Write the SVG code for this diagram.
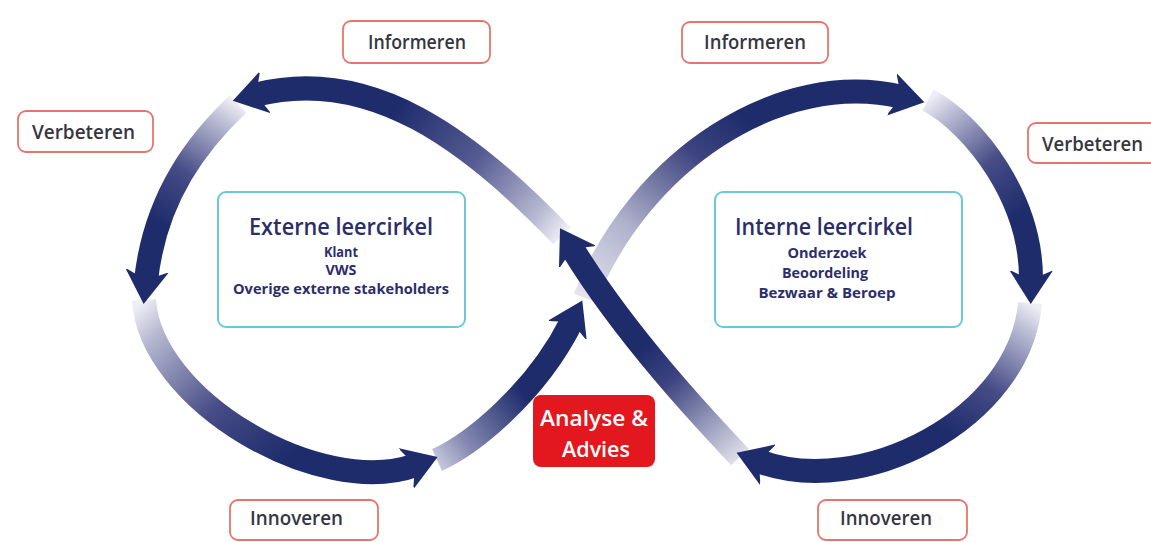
<svg xmlns="http://www.w3.org/2000/svg" xmlns:xlink="http://www.w3.org/1999/xlink" width="1151" height="542" viewBox="0 0 1151 542">
<style>
.lbl rect{fill:#ffffff;stroke:#e4766c;stroke-width:1.8}
.lbl text{font-family:"Open Sans","DejaVu Sans Condensed","Liberation Sans",sans-serif;font-weight:600;font-size:19px;fill:#36363f}
.circ rect{fill:#ffffff;stroke:#6cc7dc;stroke-width:2}
.circ text{font-family:"Open Sans","DejaVu Sans Condensed","Liberation Sans",sans-serif;fill:#2c2e6a;text-anchor:middle}
.circ .t{font-size:24px;font-weight:600}
.circ .s{font-size:14px;font-weight:bold}
.shaft{fill:none;stroke-width:24;stroke-linecap:butt}
.head{fill:none;stroke:none;marker-end:url(#ah)}
.red rect{fill:#e3171e}
.red text{font-family:"Open Sans","DejaVu Sans Condensed","Liberation Sans",sans-serif;font-weight:600;font-size:22px;fill:#ffffff;text-anchor:middle}
</style>
<defs>
<marker id="ah" viewBox="0 -23 35 46" refX="10" refY="0" markerWidth="35" markerHeight="46" markerUnits="userSpaceOnUse" orient="auto">
<path d="M33,0 L-1,-22 L9,0 L-1,22 Z" fill="#1e2c6c"/>
</marker>
<linearGradient id="g1" gradientUnits="userSpaceOnUse" x1="562" y1="236" x2="395" y2="110"><stop offset="0" stop-color="#eeeef5"/><stop offset="0.15" stop-color="#b8bad2"/><stop offset="0.55" stop-color="#555b92"/><stop offset="1" stop-color="#1e2c6c"/></linearGradient>
<linearGradient id="g2" gradientUnits="userSpaceOnUse" x1="238" y1="104" x2="162" y2="225"><stop offset="0" stop-color="#eeeef5"/><stop offset="0.15" stop-color="#c0c2d8"/><stop offset="0.6" stop-color="#464c86"/><stop offset="1" stop-color="#1e2c6c"/></linearGradient>
<linearGradient id="g3" gradientUnits="userSpaceOnUse" x1="144" y1="300" x2="290" y2="455"><stop offset="0" stop-color="#eeeef5"/><stop offset="0.15" stop-color="#b8bad2"/><stop offset="0.6" stop-color="#464c86"/><stop offset="1" stop-color="#1e2c6c"/></linearGradient>
<linearGradient id="g4" gradientUnits="userSpaceOnUse" x1="437" y1="460" x2="525" y2="395"><stop offset="0" stop-color="#c4c6da"/><stop offset="0.3" stop-color="#868ab2"/><stop offset="1" stop-color="#1e2c6c"/></linearGradient>
<linearGradient id="g5" gradientUnits="userSpaceOnUse" x1="585" y1="298" x2="735" y2="110"><stop offset="0" stop-color="#e4e4ee"/><stop offset="0.35" stop-color="#aeb1cb"/><stop offset="0.75" stop-color="#3e4481"/><stop offset="1" stop-color="#1e2c6c"/></linearGradient>
<linearGradient id="g6" gradientUnits="userSpaceOnUse" x1="928" y1="100" x2="1018" y2="215"><stop offset="0" stop-color="#eeeef5"/><stop offset="0.15" stop-color="#c0c2d8"/><stop offset="0.6" stop-color="#464c86"/><stop offset="1" stop-color="#1e2c6c"/></linearGradient>
<linearGradient id="g7" gradientUnits="userSpaceOnUse" x1="1030" y1="303" x2="945" y2="432"><stop offset="0" stop-color="#eeeef5"/><stop offset="0.15" stop-color="#c0c2d8"/><stop offset="0.6" stop-color="#464c86"/><stop offset="1" stop-color="#1e2c6c"/></linearGradient>
<linearGradient id="g8" gradientUnits="userSpaceOnUse" x1="740" y1="457" x2="645" y2="345"><stop offset="0" stop-color="#dedeea"/><stop offset="0.25" stop-color="#a6a9c5"/><stop offset="0.7" stop-color="#3d4380"/><stop offset="1" stop-color="#1e2c6c"/></linearGradient>
<path id="p1" d="M562,236 C470,140 370,65 255,95"/>
<path id="p2" d="M238,104 C200,140 155,195 146,281"/>
<path id="p3" d="M144,300 C150,400 320,500 416,465"/>
<path id="p4" d="M437,460 C470,445 535,395 572,321"/>
<path id="p5" d="M585,298 C640,160 780,68 902,97"/>
<path id="p6" d="M928,100 C975,125 1032,200 1031,281"/>
<path id="p7" d="M1030,303 C1020,420 860,500 758,461"/>
<path id="p8" d="M740,457 C705,420 625,335 572,248"/>
</defs>
<rect width="1151" height="542" fill="#ffffff"/>
<g id="connectors">
<use xlink:href="#p1" class="shaft" stroke="url(#g1)"/>
<use xlink:href="#p2" class="shaft" stroke="url(#g2)"/>
<use xlink:href="#p3" class="shaft" stroke="url(#g3)"/>
<use xlink:href="#p4" class="shaft" stroke="url(#g4)"/>
<use xlink:href="#p5" class="shaft" stroke="url(#g5)"/>
<use xlink:href="#p6" class="shaft" stroke="url(#g6)"/>
<use xlink:href="#p7" class="shaft" stroke="url(#g7)"/>
<use xlink:href="#p8" class="shaft" stroke="url(#g8)"/>
<use xlink:href="#p1" class="head"/>
<use xlink:href="#p2" class="head"/>
<use xlink:href="#p3" class="head"/>
<use xlink:href="#p4" class="head"/>
<use xlink:href="#p5" class="head"/>
<use xlink:href="#p6" class="head"/>
<use xlink:href="#p7" class="head"/>
<use xlink:href="#p8" class="head"/>
</g>
<g id="informeren-left" class="lbl"><rect x="343" y="21" width="147" height="42" rx="8"/><text x="368" y="49" textLength="98" lengthAdjust="spacingAndGlyphs">Informeren</text></g>
<g id="informeren-right" class="lbl"><rect x="682" y="22" width="146" height="41" rx="8"/><text x="704" y="49" textLength="102" lengthAdjust="spacingAndGlyphs">Informeren</text></g>
<g id="verbeteren-left" class="lbl"><rect x="18" y="111" width="135" height="41" rx="8"/><text x="32" y="139" textLength="103" lengthAdjust="spacingAndGlyphs">Verbeteren</text></g>
<g id="verbeteren-right" class="lbl"><rect x="1028" y="123" width="140" height="40" rx="8"/><text x="1042" y="151" textLength="101" lengthAdjust="spacingAndGlyphs">Verbeteren</text></g>
<g id="innoveren-left" class="lbl"><rect x="230" y="500" width="148" height="40" rx="8"/><text x="250" y="525" textLength="93" lengthAdjust="spacingAndGlyphs">Innoveren</text></g>
<g id="innoveren-right" class="lbl"><rect x="818" y="500" width="149" height="40" rx="8"/><text x="840" y="525" textLength="92" lengthAdjust="spacingAndGlyphs">Innoveren</text></g>
<g id="externe" class="circ"><rect x="218" y="192" width="247" height="135" rx="8"/>
<text class="t" x="341" y="235" textLength="184" lengthAdjust="spacingAndGlyphs">Externe leercirkel</text>
<text class="s" x="341" y="257" textLength="34" lengthAdjust="spacingAndGlyphs">Klant</text>
<text class="s" x="341" y="275" textLength="31" lengthAdjust="spacingAndGlyphs">VWS</text>
<text class="s" x="341" y="294" textLength="216" lengthAdjust="spacingAndGlyphs">Overige externe stakeholders</text></g>
<g id="interne" class="circ"><rect x="715" y="192" width="247" height="135" rx="8"/>
<text class="t" x="824" y="235" textLength="178" lengthAdjust="spacingAndGlyphs">Interne leercirkel</text>
<text class="s" x="827" y="258" textLength="79" lengthAdjust="spacingAndGlyphs">Onderzoek</text>
<text class="s" x="825" y="278" textLength="86" lengthAdjust="spacingAndGlyphs">Beoordeling</text>
<text class="s" x="827" y="298" textLength="137" lengthAdjust="spacingAndGlyphs">Bezwaar &amp; Beroep</text></g>
<g id="analyse" class="red"><rect x="533" y="395" width="122" height="72" rx="8"/>
<text x="594" y="426" textLength="108" lengthAdjust="spacingAndGlyphs">Analyse &amp;</text>
<text x="596" y="457" textLength="68" lengthAdjust="spacingAndGlyphs">Advies</text></g>
</svg>
